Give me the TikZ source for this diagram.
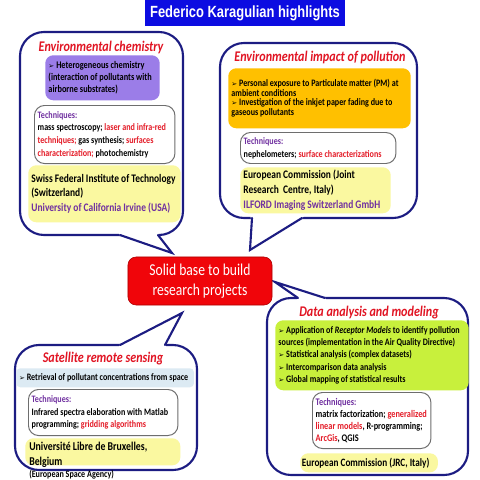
\documentclass[tikz,border=0pt]{standalone}
\usepackage{fontspec}
\setmainfont[FakeStretch=0.82]{Carlito}
\newfontfamily\bodyfont[FakeStretch=0.82]{Carlito}
\newfontfamily\headfont[FakeStretch=0.8]{Liberation Sans}
\newfontfamily\symfont{DejaVu Sans}
\usetikzlibrary{positioning}
\hyphenpenalty=10000
\exhyphenpenalty=10000

\definecolor{barblue}{RGB}{12,12,225}
\definecolor{bubbleblue}{RGB}{28,28,130}
\definecolor{headred}{RGB}{225,20,35}
\definecolor{basered}{RGB}{240,5,10}
\definecolor{baseedge}{RGB}{170,0,0}
\definecolor{topicpurple}{RGB}{155,125,232}
\definecolor{topicorange}{RGB}{255,192,0}
\definecolor{topicblue}{RGB}{220,234,243}
\definecolor{topicgreen}{RGB}{200,240,60}
\definecolor{instyellow}{RGB}{250,248,160}
\definecolor{techpurple}{RGB}{112,48,160}
\definecolor{techred}{RGB}{228,28,40}
\definecolor{techedge}{RGB}{110,110,110}

\newcommand{\bul}{{\symfont\fontsize{5}{5}\selectfont ➢}\ }
\newcommand{\tq}{\textcolor{techpurple}{Techniques:}\\}
\newcommand{\redtx}[1]{\textcolor{techred}{#1}}
\newcommand{\purptx}[1]{\textcolor{techpurple}{#1}}
\newcommand{\techfont}{\bodyfont\fontsize{7}{9}\selectfont\bfseries}

\tikzset{
  bubble/.style={draw=bubbleblue, line width=1.5pt, fill=white, rounded corners=0.6cm},
  tailline/.style={draw=bubbleblue, line width=1.5pt, line cap=round},
  boxhead/.style={font=\fontsize{10.5}{12}\selectfont\bfseries\itshape, text=headred, inner sep=0pt},
  inbox/.style={anchor=north west, rounded corners=0.2cm, inner xsep=0.08cm, inner ysep=0pt, align=flush left},
  topicbox/.style={inbox, fill=#1},
  techbox/.style={inbox, draw=techedge, line width=0.7pt, fill=white, rounded corners=0.25cm, font=\techfont},
  instbox/.style={inbox, fill=instyellow, font=\bodyfont\fontsize{8.2}{10.6}\selectfont\bfseries},
}

\begin{document}
\begin{tikzpicture}[x=0.025cm, y=-0.025cm]
\useasboundingbox (0,0) rectangle (480,480);

% Title bar
\node[fill=barblue, text=white, minimum width=5cm, minimum height=0.65cm,
      font=\headfont\bfseries\fontsize{11.5}{13}\selectfont] (title) at (245,13) {Federico Karagulian highlights};

% Speech bubbles: body, then the tail pointing at the centre box
\draw[bubble] (20,32) rectangle (183,235);
\fill[white] (118,231) -- (120,236) -- (172,253) -- (158,236) -- (159,231) -- cycle;
\draw[tailline] (120,235) -- (172,253) -- (158,235);

\draw[bubble] (220,43) rectangle (417,218);
\fill[white] (250,214) -- (251,219) -- (250,250) -- (302,219) -- (305,214) -- cycle;
\draw[tailline] (252,218) -- (250,250) -- (302,218);

\draw[bubble] (15,345) rectangle (197,470);
\fill[white] (118,349) -- (120,344) -- (182,313) -- (165,344) -- (167,349) -- cycle;
\draw[tailline] (120,345) -- (182,313) -- (165,345);

\draw[bubble] (267,298) rectangle (468,475);
\fill[white] (296,302) -- (298,297) -- (275,282) -- (325,297) -- (327,302) -- cycle;
\draw[tailline] (298,298) -- (275,282) -- (325,298);

% Centre box
\node[fill=basered, draw=baseedge, rounded corners=0.2cm, minimum width=3.6cm, minimum height=1.2cm,
      text=white, align=center, font=\fontsize{11.8}{14.2}\selectfont] (base) at (200,281) {Solid base to build\\research projects};

% Environmental chemistry
\node[boxhead] (chemhead) at (101,47) {Environmental chemistry};
\node[topicbox=topicpurple, minimum width=2.8cm, minimum height=1.125cm, text width=2.7cm,
      font=\bodyfont\fontsize{7.2}{8.5}\selectfont\bfseries] (chemtopic) at (45,55)
  {\bul Heterogeneous chemistry\\(interaction of pollutants with\\airborne substrates)};
\node[techbox, minimum width=3.45cm, minimum height=1.45cm, text width=3.35cm] (chemtech) at (34,105)
  {\tq mass spectroscopy; \redtx{laser and infra-red}\\\redtx{techniques;} gas synthesis; \redtx{surfaces}\\\redtx{characterization;} photochemistry};
\node[instbox, minimum width=3.75cm, minimum height=1.425cm, text width=3.65cm] (cheminst) at (28,165)
  {Swiss Federal Institute of Technology\\(Switzerland)\\\purptx{University of California Irvine (USA)}};

% Environmental impact of pollution
\node[boxhead] (imphead) at (320,57) {Environmental impact of pollution};
\node[topicbox=topicorange, minimum width=4.5cm, minimum height=1.5cm, text width=4.4cm,
      font=\bodyfont\fontsize{7}{6.9}\selectfont\bfseries] (imptopic) at (228,68)
  {\bul Personal exposure to Particulate matter (PM) at\\ambient conditions\\\bul Investigation of the inkjet paper fading due to\\gaseous pollutants};
\node[techbox, minimum width=3.825cm, minimum height=0.775cm, text width=3.725cm] (imptech) at (240,132)
  {\tq nephelometers; \redtx{surface characterizations}};
\node[instbox, minimum width=3.7cm, minimum height=1.15cm, text width=3.6cm] (impinst) at (240,167)
  {European Commission (Joint\\Research\ \ Centre, Italy)\\\purptx{ILFORD Imaging Switzerland GmbH}};

% Satellite remote sensing
\node[boxhead] (sathead) at (103,359) {Satellite remote sensing};
\node[topicbox=topicblue, rounded corners=0.1cm, minimum width=4.4cm, minimum height=0.475cm, text width=4.3cm,
      inner xsep=0.07cm, font=\bodyfont\fontsize{7}{8}\selectfont\bfseries] (sattopic) at (16,368)
  {\bul Retrieval of pollutant concentrations from space};
\node[techbox, minimum width=3.675cm, minimum height=1.15cm, text width=3.575cm] (sattech) at (28,389)
  {\tq Infrared spectra elaboration with Matlab\\programming; \redtx{gridding algorithms}};
\node[instbox, minimum width=3.875cm, minimum height=0.675cm] (satinst) at (25,438) {};
\node[anchor=north west, inner sep=0pt, align=flush left, font=\bodyfont\fontsize{8.5}{10.7}\selectfont\bfseries] (ulb) at (29,442)
  {Université Libre de Bruxelles,\\Belgium};
\node[anchor=west, inner sep=0pt, font=\bodyfont\fontsize{7}{8}\selectfont\bfseries] (esa) at (29,475) {(European Space Agency)};

% Data analysis and modeling
\node[boxhead] (datahead) at (369,313) {Data analysis and modeling};
\node[topicbox=topicgreen, minimum width=4.775cm, minimum height=1.75cm, text width=4.675cm,
      font=\bodyfont\fontsize{7}{8.7}\selectfont\bfseries] (datatopic) at (275,320)
  {\bul Application of \textit{Receptor Models} to identify pollution\\sources (implementation in the Air Quality Directive)\\\bul Statistical analysis (complex datasets)\\\bul Intercomparison data analysis\\\bul Global mapping of statistical results};
\node[techbox, minimum width=2.9cm, minimum height=1.4cm, text width=2.8cm,
      font=\bodyfont\fontsize{7.2}{8.6}\selectfont\bfseries] (datatech) at (312,392)
  {\tq matrix factorization; \redtx{generalized}\\\redtx{linear models}, R-programming;\\\redtx{ArcGis}, QGIS};
\node[instbox, minimum width=3.3cm, minimum height=0.475cm, text width=3.36cm, inner xsep=0.04cm,
      font=\bodyfont\fontsize{8}{10}\selectfont\bfseries] (datainst) at (300,453)
  {European Commission (JRC, Italy)};
\end{tikzpicture}
\end{document}
